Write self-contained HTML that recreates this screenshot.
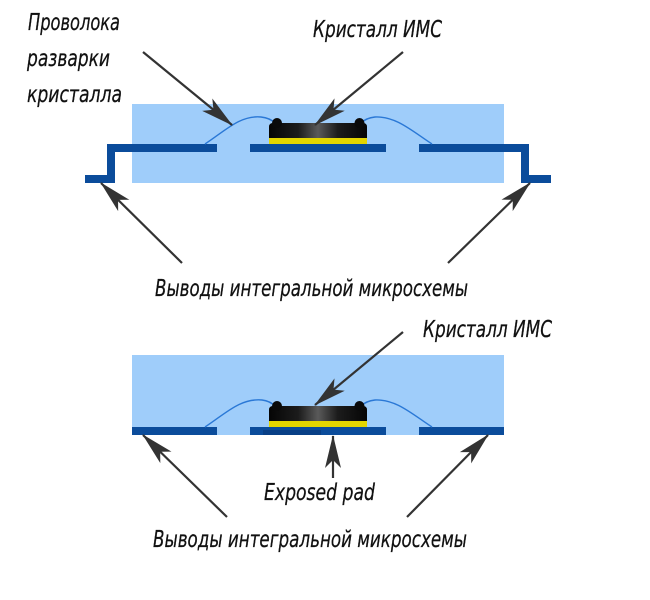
<!DOCTYPE html>
<html>
<head>
<meta charset="utf-8">
<style>
  html, body { margin: 0; padding: 0; background: #ffffff; }
  svg { display: block; }
  text {
    font-family: "DejaVu Sans Condensed", "DejaVu Sans", "Liberation Sans", sans-serif;
    font-style: oblique;
    font-size: 23px;
    fill: #111;
    stroke: #111;
    stroke-width: 0.25;
  }
</style>
</head>
<body>
<svg width="650" height="600" viewBox="0 0 650 600" xmlns="http://www.w3.org/2000/svg">
  <defs>
    <linearGradient id="chip" x1="0" y1="0" x2="1" y2="0">
      <stop offset="0" stop-color="#050505"/>
      <stop offset="0.3" stop-color="#1c1c1c"/>
      <stop offset="0.5" stop-color="#5a5a5a"/>
      <stop offset="0.7" stop-color="#1c1c1c"/>
      <stop offset="1" stop-color="#050505"/>
    </linearGradient>
    <marker id="ah" markerUnits="userSpaceOnUse" markerWidth="40" markerHeight="20"
            viewBox="-36 -10 38 20" refX="0" refY="0" orient="auto">
      <path d="M1,0 L-32,-8 L-24,0 L-32,8 Z" fill="#333"/>
    </marker>
  </defs>

  <!-- ===== TOP DIAGRAM ===== -->
  <rect x="132" y="104" width="372" height="79" fill="#9fcdfa"/>
  <!-- left lead -->
  <rect x="107" y="144" width="110" height="8" fill="#0b4c9b"/>
  <rect x="107" y="144" width="8" height="39" fill="#0b4c9b"/>
  <rect x="85" y="175" width="30" height="8" fill="#0b4c9b"/>
  <!-- center pad -->
  <rect x="250" y="144" width="136" height="8" fill="#0b4c9b"/>
  <!-- right lead -->
  <rect x="419" y="144" width="110" height="8" fill="#0b4c9b"/>
  <rect x="521" y="144" width="8" height="39" fill="#0b4c9b"/>
  <rect x="521" y="175" width="30" height="8" fill="#0b4c9b"/>
  <!-- wires -->
  <path d="M205,144 C225,131 240,115 261,117 Q270,118 275,123" fill="none" stroke="#2a78d6" stroke-width="1.4"/>
  <path d="M361,123 Q366,118 375,117 C396,116 412,131 432,144" fill="none" stroke="#2a78d6" stroke-width="1.4"/>
  <!-- chip -->
  <rect x="269" y="137" width="98" height="7" fill="#e3d500"/>
  <path d="M269,138 L269,127 Q269,123 273,123 L363,123 Q367,123 367,127 L367,138 Z" fill="url(#chip)"/>
  <circle cx="277" cy="123" r="5" fill="#0a0a0a"/>
  <circle cx="359.5" cy="123" r="5" fill="#0a0a0a"/>

  <!-- top arrows -->
  <line x1="143" y1="52" x2="232" y2="125" stroke="#333" stroke-width="2.2" marker-end="url(#ah)"/>
  <line x1="403" y1="52" x2="315" y2="125" stroke="#333" stroke-width="2.2" marker-end="url(#ah)"/>
  <line x1="182" y1="263" x2="101" y2="183" stroke="#333" stroke-width="2.2" marker-end="url(#ah)"/>
  <line x1="448" y1="263" x2="530" y2="183" stroke="#333" stroke-width="2.2" marker-end="url(#ah)"/>

  <!-- top labels -->
  <text x="28" y="30" textLength="92" lengthAdjust="spacingAndGlyphs">Проволока</text>
  <text x="27" y="66" textLength="83" lengthAdjust="spacingAndGlyphs">разварки</text>
  <text x="27" y="102" textLength="95" lengthAdjust="spacingAndGlyphs">кристалла</text>
  <text x="313" y="37" textLength="129" lengthAdjust="spacingAndGlyphs">Кристалл ИМС</text>
  <text x="155" y="296" textLength="313" lengthAdjust="spacingAndGlyphs">Выводы интегральной микросхемы</text>

  <!-- ===== BOTTOM DIAGRAM ===== -->
  <rect x="132" y="355" width="372" height="80" fill="#9fcdfa"/>
  <rect x="132" y="427" width="85" height="8" fill="#0b4c9b"/>
  <rect x="250" y="427" width="136" height="8" fill="#0b4c9b"/>
  <rect x="263" y="430" width="58" height="5" fill="#083f86"/>
  <rect x="419" y="427" width="85" height="8" fill="#0b4c9b"/>
  <!-- wires -->
  <path d="M205,427 C225,414 240,398 262,400 Q270,401 275,406" fill="none" stroke="#2a78d6" stroke-width="1.4"/>
  <path d="M361,406 Q366,401 375,400 C396,399 412,414 432,427" fill="none" stroke="#2a78d6" stroke-width="1.4"/>
  <!-- chip -->
  <rect x="269" y="420" width="98" height="7" fill="#e3d500"/>
  <path d="M269,421 L269,410 Q269,406 273,406 L363,406 Q367,406 367,410 L367,421 Z" fill="url(#chip)"/>
  <circle cx="277" cy="406" r="5" fill="#0a0a0a"/>
  <circle cx="359.5" cy="406" r="5" fill="#0a0a0a"/>

  <!-- bottom arrows -->
  <line x1="403" y1="332" x2="315" y2="405" stroke="#333" stroke-width="2.2" marker-end="url(#ah)"/>
  <line x1="227" y1="517" x2="143" y2="435" stroke="#333" stroke-width="2.2" marker-end="url(#ah)"/>
  <line x1="407" y1="517" x2="488" y2="435" stroke="#333" stroke-width="2.2" marker-end="url(#ah)"/>
  <line x1="333" y1="478" x2="333" y2="436" stroke="#333" stroke-width="2.2" marker-end="url(#ah)"/>

  <!-- bottom labels -->
  <text x="423" y="337" textLength="129" lengthAdjust="spacingAndGlyphs">Кристалл ИМС</text>
  <text x="264" y="500" textLength="111" lengthAdjust="spacingAndGlyphs">Exposed pad</text>
  <text x="153" y="547" textLength="314" lengthAdjust="spacingAndGlyphs">Выводы интегральной микросхемы</text>
</svg>
</body>
</html>
